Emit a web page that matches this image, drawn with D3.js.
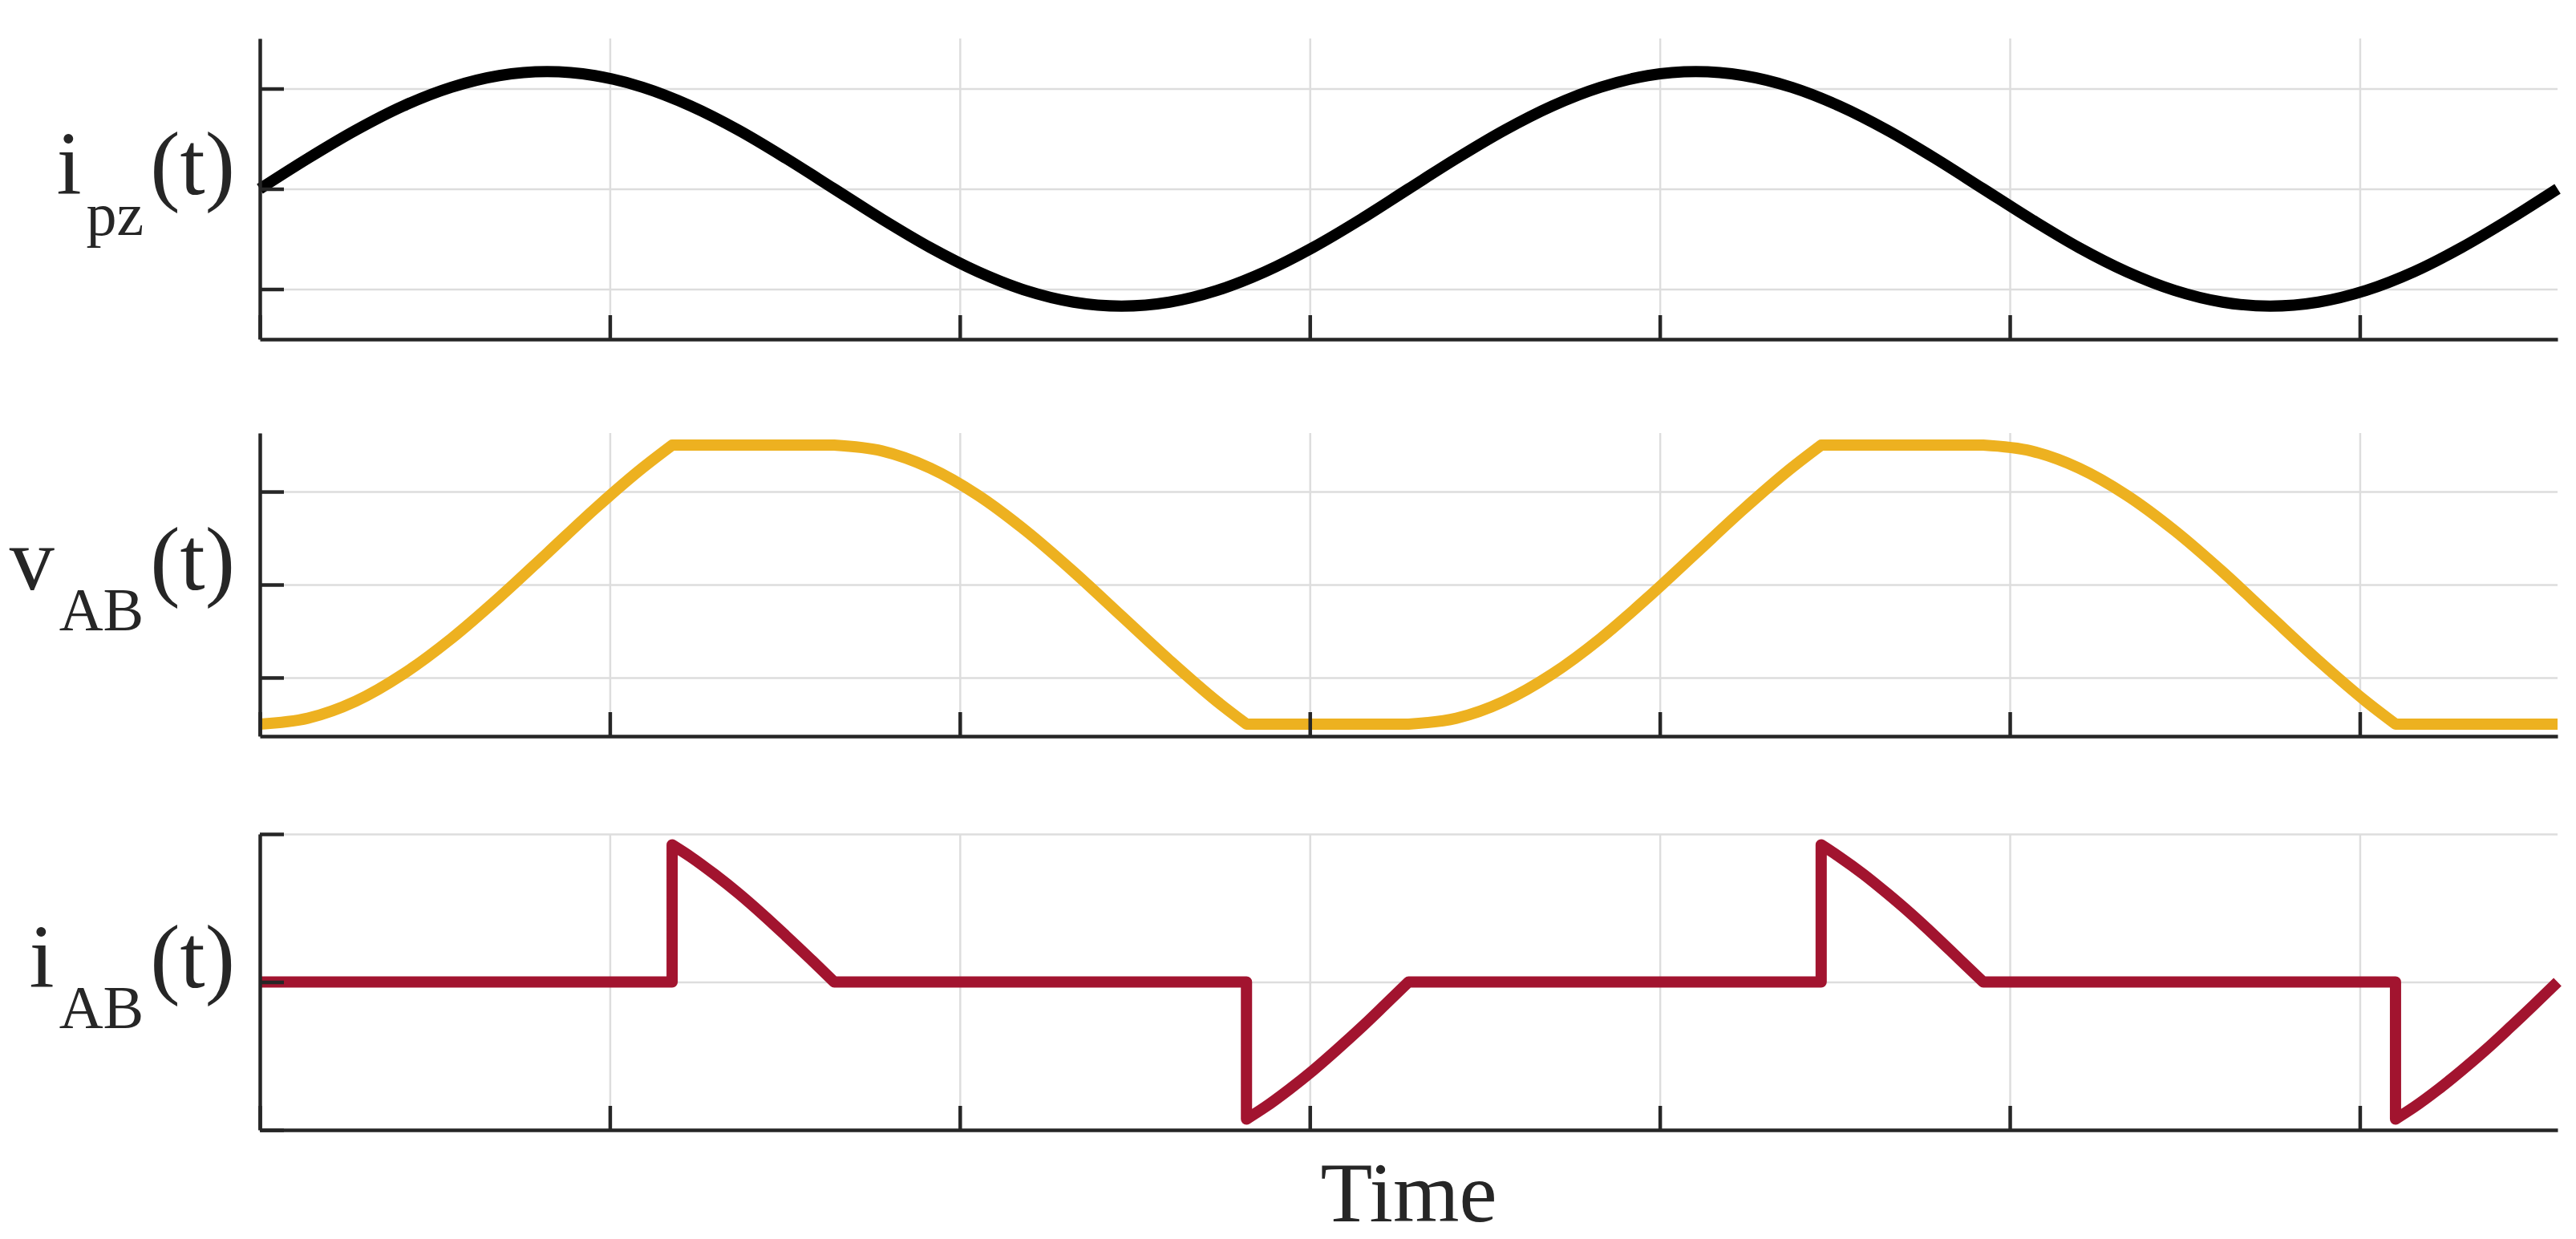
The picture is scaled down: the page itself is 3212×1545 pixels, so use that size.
<!DOCTYPE html>
<html>
<head>
<meta charset="utf-8">
<script src="https://cdn.jsdelivr.net/npm/d3@7"></script>
<style>
  html, body { margin: 0; padding: 0; background: #fff; }
</style>
</head>
<body>
<script>
// time axis (us), ticks at every 1 us, two resonant periods shown
const tEnd = 6.565
const tTicks = [0, 1, 2, 3, 4, 5, 6]

// i_pz(t) - resonator current
const tPz = [0, 0.137, 0.274, 0.410, 0.547, 0.684, 0.821, 0.957, 1.094, 1.231, 1.368, 1.504,
    1.641, 1.778, 1.915, 2.052, 2.188, 2.325, 2.462, 2.599, 2.735, 2.872, 3.009, 3.146,
    3.282, 3.419, 3.556, 3.693, 3.830, 3.966, 4.103, 4.240, 4.377, 4.513, 4.650, 4.787,
    4.924, 5.061, 5.197, 5.334, 5.471, 5.608, 5.744, 5.881, 6.018, 6.155, 6.291, 6.428, 6.565]
const iPz = [0, 0.303, 0.585, 0.827, 1.013, 1.130, 1.17, 1.130, 1.013, 0.827, 0.585, 0.303,
    0, -0.303, -0.585, -0.827, -1.013, -1.130, -1.17, -1.130, -1.013, -0.827, -0.585, -0.303,
    0, 0.303, 0.585, 0.827, 1.013, 1.130, 1.17, 1.130, 1.013, 0.827, 0.585, 0.303,
    0, -0.303, -0.585, -0.827, -1.013, -1.130, -1.17, -1.130, -1.013, -0.827, -0.585, -0.303, 0]

// v_AB(t) - bridge voltage
const tVab = [0, 0.137, 0.274, 0.410, 0.547, 0.684, 0.821, 0.957, 1.094, 1.178,
    1.641, 1.778, 1.915, 2.052, 2.188, 2.325, 2.462, 2.599, 2.735, 2.819,
    3.282, 3.419, 3.556, 3.693, 3.830, 3.966, 4.103, 4.240, 4.377, 4.461,
    4.924, 5.061, 5.197, 5.334, 5.471, 5.608, 5.744, 5.881, 6.018, 6.102, 6.565]
const vAB = [-1.5, -1.437, -1.254, -0.961, -0.581, -0.138, 0.338, 0.814, 1.257, 1.5,
    1.5, 1.437, 1.254, 0.961, 0.581, 0.138, -0.338, -0.814, -1.257, -1.5,
    -1.5, -1.437, -1.254, -0.961, -0.581, -0.138, 0.338, 0.814, 1.257, 1.5,
    1.5, 1.437, 1.254, 0.961, 0.581, 0.138, -0.338, -0.814, -1.257, -1.5, -1.5]

// i_AB(t) - bridge current
const tIab = [0, 1.178, 1.178, 1.231, 1.299, 1.368, 1.436, 1.504, 1.573, 1.641,
    2.819, 2.819, 2.872, 2.940, 3.009, 3.077, 3.146, 3.214, 3.282,
    4.461, 4.461, 4.513, 4.582, 4.650, 4.719, 4.787, 4.855, 4.924,
    6.102, 6.102, 6.155, 6.223, 6.291, 6.360, 6.428, 6.497, 6.565]
const iAB = [0, 0, 0.927, 0.846, 0.728, 0.598, 0.458, 0.310, 0.156, 0,
    0, -0.927, -0.846, -0.728, -0.598, -0.458, -0.310, -0.156, 0,
    0, 0.927, 0.846, 0.728, 0.598, 0.458, 0.310, 0.156, 0,
    0, -0.927, -0.846, -0.728, -0.598, -0.458, -0.310, -0.156, 0]

const W = 3212, H = 1545
const xLeft = 324, xRight = 3189
const axisColor = "#262626", gridColor = "#dddddd"
const serif = '"Liberation Serif", "Times New Roman", serif'

const panels = [
    { top: 48, bottom: 423, domain: [-1.5, 1.5], ticks: [-1, 0, 1], t: tPz, v: iPz, color: "#000000", main: "i", sub: "pz" },
    { top: 540, bottom: 918, domain: [-1.63, 1.63], ticks: [-1, 0, 1], t: tVab, v: vAB, color: "#EDB120", main: "v", sub: "AB" },
    { top: 1040, bottom: 1409, domain: [-1, 1], ticks: [-1, 0, 1], t: tIab, v: iAB, color: "#A2142F", main: "i", sub: "AB" }
]

const svg = d3.select("body").append("svg")
    .attr("width", W)
    .attr("height", H)
    .style("display", "block")

svg.append("rect").attr("width", W).attr("height", H).attr("fill", "#fff")

const x = d3.scaleLinear().domain([0, tEnd]).range([xLeft, xRight])

// piecewise path: flat parts and jumps stay straight, the rest is smoothed
const piecewisePath = (ts, vs, y) => {
    let pts = ts.map((t, i) => [x(t), y(vs[i])])
    let runs = []
    for (let i = 0; i < pts.length - 1; i++) {
        let straight = ts[i] === ts[i + 1] || vs[i] === vs[i + 1]
        let last = runs[runs.length - 1]
        if (last && last.straight === straight) last.pts.push(pts[i + 1])
        else runs.push({ straight: straight, pts: [pts[i], pts[i + 1]] })
    }
    return runs.map((r, k) => {
        let d = d3.line().curve(r.straight ? d3.curveLinear : d3.curveMonotoneX)(r.pts)
        return k === 0 ? d : d.replace(/^M/, "L")
    }).join("")
}

panels.forEach((p) => {
    let y = d3.scaleLinear().domain(p.domain).range([p.bottom, p.top])

    // grid lines
    svg.append("g")
        .attr("transform", "translate(0," + p.bottom + ")")
        .call(d3.axisBottom(x).tickValues(tTicks).tickSize(-(p.bottom - p.top)).tickFormat(""))
        .call(g => g.select(".domain").remove())
        .selectAll("line").attr("stroke", gridColor).attr("stroke-width", 2.5)

    svg.append("g")
        .attr("transform", "translate(" + xLeft + ",0)")
        .call(d3.axisLeft(y).tickValues(p.ticks).tickSize(-(xRight - xLeft)).tickFormat(""))
        .call(g => g.select(".domain").remove())
        .selectAll("line").attr("stroke", gridColor).attr("stroke-width", 2.5)

    // waveform
    svg.append("path")
        .attr("d", piecewisePath(p.t, p.v, y))
        .attr("fill", "none")
        .attr("stroke", p.color)
        .attr("stroke-width", 14)
        .attr("stroke-linejoin", "round")

    // axes (ticks inward, no labels)
    let yAxis = svg.append("g")
        .attr("transform", "translate(" + xLeft + ",0)")
        .call(d3.axisLeft(y).tickValues(p.ticks).tickSize(-30).tickSizeOuter(0).tickFormat(""))
    let xAxis = svg.append("g")
        .attr("transform", "translate(0," + p.bottom + ")")
        .call(d3.axisBottom(x).tickValues(tTicks).tickSize(-30).tickSizeOuter(0).tickFormat(""))

    ;[yAxis, xAxis].forEach(a => {
        a.select(".domain").attr("stroke", axisColor).attr("stroke-width", 4.5)
        a.selectAll("line").attr("stroke", axisColor).attr("stroke-width", 4.5)
    })

    // y label, e.g. i_pz(t)
    let lab = svg.append("text")
        .attr("x", 293)
        .attr("y", y(0) + 6)
        .attr("text-anchor", "end")
        .attr("font-family", serif)
        .attr("font-size", 112)
        .attr("fill", axisColor)
    lab.append("tspan").text(p.main)
    lab.append("tspan").attr("font-size", 76).attr("dx", 6).attr("dy", 51).text(p.sub)
    lab.append("tspan").attr("dx", 8).attr("dy", -51).text("(t)")
})

svg.append("text")
    .attr("x", (xLeft + xRight) / 2)
    .attr("y", 1523)
    .attr("text-anchor", "middle")
    .attr("font-family", serif)
    .attr("font-size", 106)
    .attr("fill", axisColor)
    .text("Time")
</script>
</body>
</html>
